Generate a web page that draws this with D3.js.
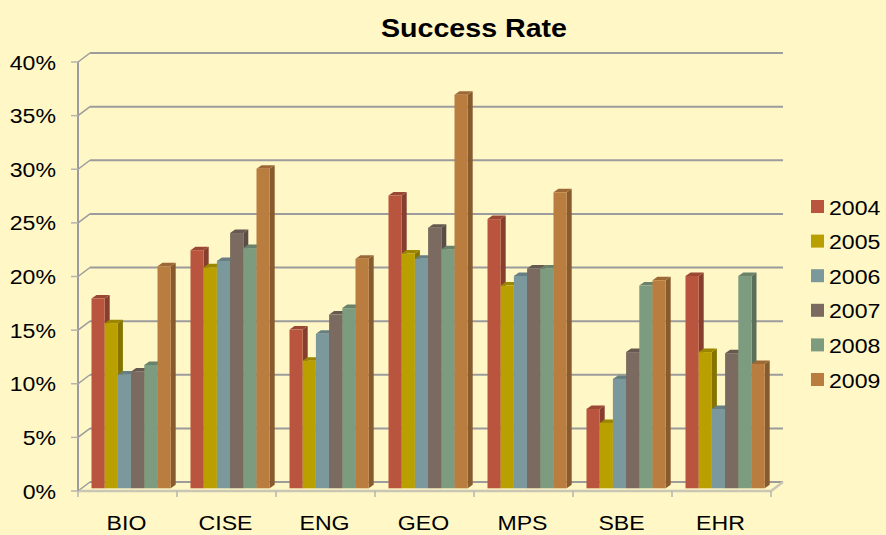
<!DOCTYPE html>
<html>
<head>
<meta charset="utf-8">
<script src="https://cdn.jsdelivr.net/npm/d3@7"></script>
<style>
  html, body { margin: 0; padding: 0; background: #fff7c6; }
  svg { display: block; font-family: "Liberation Sans", Arial, sans-serif; }
</style>
</head>
<body>
<svg id="chart" width="886" height="535"></svg>
<script>
// Success rate by directorate, 2004-2009
const categories = ["BIO", "CISE", "ENG", "GEO", "MPS", "SBE", "EHR"];
const years = ["2004", "2005", "2006", "2007", "2008", "2009"];
const rate2004 = [0.177, 0.222, 0.148, 0.273, 0.251, 0.074, 0.198];
const rate2005 = [0.154, 0.206, 0.119, 0.219, 0.189, 0.061, 0.127];
const rate2006 = [0.106, 0.212, 0.144, 0.214, 0.198, 0.102, 0.074];
const rate2007 = [0.109, 0.238, 0.162, 0.243, 0.205, 0.127, 0.126];
const rate2008 = [0.115, 0.224, 0.168, 0.223, 0.205, 0.189, 0.198];
const rate2009 = [0.207, 0.298, 0.214, 0.367, 0.276, 0.194, 0.116];
const yTicks = [0, 0.05, 0.10, 0.15, 0.20, 0.25, 0.30, 0.35, 0.40];
const colors = ["#b9553f", "#b9a000", "#7b989c", "#7a6a60", "#7d9b7e", "#ba7d40"];

const seriesValues = [rate2004, rate2005, rate2006, rate2007, rate2008, rate2009];

const svg = d3.select("#chart");
const bg = "#fff7c6";
svg.append("rect").attr("width", 886).attr("height", 535).attr("fill", bg);

// Front plane scales, plus a back-wall offset for the 3-D look
const y = d3.scaleLinear().domain([0, 0.4]).range([491, 62]);
const x0 = d3.scaleBand().domain(categories).range([78, 771]);
const bw = x0.bandwidth();
const x1 = d3.scaleBand().domain(years).range([bw * 0.1, bw * 0.9]);
const DX = 12, DY = -9;          // wall depth
const bf = 0.3;                  // depth of the bar front face
const bdx = 5, bdy = -3.5;       // bar thickness in depth

// Back wall gridlines and left-wall diagonals
const grid = svg.append("g");
yTicks.forEach(t => {
  const yf = y(t);
  grid.append("line")
    .attr("x1", 78 + DX).attr("x2", 771 + DX)
    .attr("y1", yf + DY).attr("y2", yf + DY)
    .attr("stroke", "#9c9c9c").attr("stroke-width", 2);
  grid.append("line")
    .attr("x1", 78).attr("y1", yf)
    .attr("x2", 78 + DX).attr("y2", yf + DY)
    .attr("stroke", "#9c9c9c").attr("stroke-width", 1.5);
});

// Floor front edge and right side
svg.append("path")
  .attr("d", `M78,${y(0)}L771,${y(0)}L${771 + DX},${y(0) + DY}`)
  .attr("fill", "none").attr("stroke", "#c9c6b4").attr("stroke-width", 2.5);

// Category tick marks below the floor
svg.append("g").selectAll("line")
  .data(d3.range(categories.length + 1))
  .join("line")
  .attr("x1", i => 78 + i * bw).attr("x2", i => 78 + i * bw)
  .attr("y1", y(0)).attr("y2", y(0) + 6)
  .attr("stroke", "#b4b4b0").attr("stroke-width", 1.5);

// Bars
const bars = svg.append("g");
categories.forEach((cat, ci) => {
  years.forEach((yr, si) => {
    const v = seriesValues[si][ci];
    const xl = x0(cat) + x1(yr) + DX * bf;
    const w = x1.bandwidth();
    const yb = y(0) + DY * bf;
    const yt = y(v) + DY * bf;
    const c = d3.color(colors[si]);
    // side face
    bars.append("path")
      .attr("d", `M${xl + w},${yt}L${xl + w + bdx},${yt + bdy}L${xl + w + bdx},${yb + bdy}L${xl + w},${yb}Z`)
      .attr("fill", c.darker(0.9));
    // top face
    bars.append("path")
      .attr("d", `M${xl},${yt}L${xl + bdx},${yt + bdy}L${xl + w + bdx},${yt + bdy}L${xl + w},${yt}Z`)
      .attr("fill", c.darker(0.5));
    // front face
    bars.append("rect")
      .attr("x", xl).attr("y", yt)
      .attr("width", w).attr("height", yb - yt)
      .attr("fill", c);
  });
});

// Left value axis
svg.append("line")
  .attr("x1", 78).attr("x2", 78).attr("y1", y(0.4)).attr("y2", y(0))
  .attr("stroke", "#9c9c9c").attr("stroke-width", 2);
const yAxis = svg.append("g");
yTicks.forEach(t => {
  yAxis.append("line")
    .attr("x1", 71).attr("x2", 78).attr("y1", y(t)).attr("y2", y(t))
    .attr("stroke", "#b4b4b0").attr("stroke-width", 1.5);
  yAxis.append("text")
    .attr("transform", `translate(56,${y(t) + 7.5}) scale(1.1,1)`)
    .attr("text-anchor", "end")
    .attr("font-size", 21).attr("fill", "#000")
    .text(d3.format(".0%")(t));
});

// Category labels
svg.append("g").selectAll("text")
  .data(categories)
  .join("text")
  .attr("transform", d => `translate(${x0(d) + bw / 2 - 1},530) scale(1.1,1)`)
  .attr("text-anchor", "middle")
  .attr("font-size", 21).attr("fill", "#000")
  .text(d => d);

// Title
svg.append("text")
  .attr("transform", "translate(474,37) scale(1.1,1)")
  .attr("text-anchor", "middle")
  .attr("font-size", 26).attr("font-weight", "bold").attr("fill", "#000")
  .text("Success Rate");

// Legend
const legend = svg.append("g");
years.forEach((yr, i) => {
  const ly = 200 + i * 34.6;
  legend.append("rect")
    .attr("x", 811).attr("y", ly).attr("width", 13).attr("height", 13)
    .attr("fill", colors[i]);
  legend.append("text")
    .attr("transform", `translate(829,${ly + 14.5}) scale(1.1,1)`)
    .attr("font-size", 21).attr("fill", "#000")
    .text(yr);
});
</script>
</body>
</html>
